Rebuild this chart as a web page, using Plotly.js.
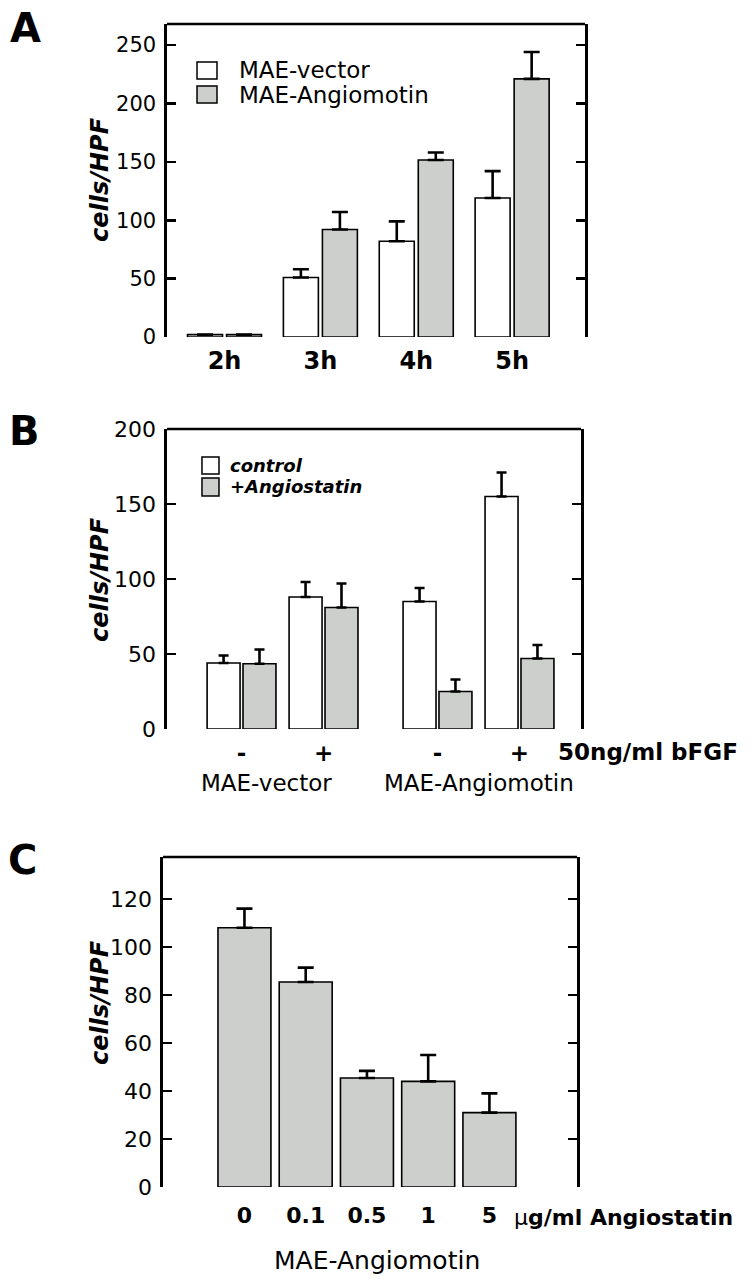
<!DOCTYPE html>
<html><head><meta charset="utf-8">
<script src="https://cdn.plot.ly/plotly-3.0.1.min.js"></script>
<style>html,body{margin:0;padding:0;background:#fff}#chart{width:753px;height:1280px}</style>
</head><body><div id="chart"></div>
<script>
// ---------- Panel A data ----------
const timeLabels = ['2h', '3h', '4h', '5h'];
const vectorA = [2, 51, 82, 119];
const vectorAErr = [0, 7, 17, 23];
const angiomotinA = [2, 92, 151.5, 221];
const angiomotinAErr = [0, 15, 6.5, 23];
const legendA = ['MAE-vector', 'MAE-Angiomotin'];

// ---------- Panel B data ----------
const cellLines = ['MAE-vector', 'MAE-Angiomotin'];
const bfgfLabels = ['-', '+'];
const bfgfTitle = '50ng/ml bFGF';
const controlB = [44, 88, 85, 155];
const controlBErr = [5, 10, 9, 16];
const angiostatinB = [43.5, 81, 25, 47];
const angiostatinBErr = [9.5, 16, 8, 9];
const legendB = ['control', '+Angiostatin'];

// ---------- Panel C data ----------
const doseLabels = ['0', '0.1', '0.5', '1', '5'];
const angiomotinC = [108, 85.4, 45.4, 44, 31];
const angiomotinCErr = [8, 6, 3, 11, 8];
const doseUnit = 'g/ml Angiostatin';
const cLineLabel = 'MAE-Angiomotin';

const yTitle = 'cells/HPF';

// ---------- styling ----------
const W = 753, H = 1280;
const FONT = 'DejaVu Sans, Arial, sans-serif';
const GRAY = '#cdcfcd';
const px = v => v / W;
const py = v => 1 - v / H;

function barTrace(x, y, err, fill, xa, ya, width, offset, capw) {
  return {
    type: 'bar', x: x, y: y, xaxis: xa, yaxis: ya,
    width: width, offset: offset,
    marker: {color: fill, line: {color: '#000', width: 1.6}},
    error_y: {type: 'data', symmetric: false, array: err,
              arrayminus: err.map(() => 0), color: '#000', thickness: 2.6, width: capw},
    showlegend: false, hoverinfo: 'skip'
  };
}

// Panel B positions: groups of bFGF conditions separated by a gap
const groupGap = 0.39;
const xB = [];
cellLines.forEach((g, gi) => bfgfLabels.forEach((c, ci) => xB.push(gi * (bfgfLabels.length + groupGap) + ci)));
const tickTextB = [];
cellLines.forEach(() => bfgfLabels.forEach(c => tickTextB.push(c)));

const traces = [
  barTrace(timeLabels, vectorA, vectorAErr, '#fff', 'x', 'y', 0.365, -0.386, 8),
  barTrace(timeLabels, angiomotinA, angiomotinAErr, GRAY, 'x', 'y', 0.365, 0.021, 8),
  barTrace(xB, controlB, controlBErr, '#fff', 'x2', 'y2', 0.402, -0.42, 5),
  barTrace(xB, angiostatinB, angiostatinBErr, GRAY, 'x2', 'y2', 0.402, 0.018, 5),
  barTrace(doseLabels, angiomotinC, angiomotinCErr, GRAY, 'x3', 'y3', 0.865, -0.4325, 8)
];

function yax(domain, range, dtick, fsize) {
  return {
    domain: domain, range: range, dtick: dtick, tick0: 0,
    showline: true, linecolor: '#000', linewidth: 2.6, mirror: 'ticks',
    ticks: 'inside', ticklen: 9, tickwidth: 2.6, tickcolor: '#000',
    showgrid: false, zeroline: false, fixedrange: true,
    tickfont: {family: FONT, size: fsize, color: '#000'}, ticklabelstandoff: 4
  };
}
function xax(domain, range, extra) {
  return Object.assign({
    domain: domain, range: range, showline: false, showgrid: false, zeroline: false,
    ticks: '', fixedrange: true
  }, extra);
}

const layout = {
  width: W, height: H, margin: {l: 0, r: 0, t: 0, b: 0},
  paper_bgcolor: '#fff', plot_bgcolor: 'rgba(0,0,0,0)',
  barmode: 'overlay', showlegend: false,
  font: {family: FONT, color: '#000'},
  xaxis: xax([px(167), px(585)], [-0.6, 3.76], {type: 'category', anchor: 'y',
    tickfont: {family: FONT, size: 24, weight: 'bold', color: '#000'}, ticklabelstandoff: 7}),
  yaxis: Object.assign(yax([py(337), py(24)], [0, 268], 50, 21), {anchor: 'x'}),
  xaxis2: xax([px(167), px(581)], [-0.909, 4.14], {type: 'linear', anchor: 'y2',
    tickmode: 'array', tickvals: xB, ticktext: tickTextB,
    tickfont: {family: FONT, size: 23, weight: 'bold', color: '#000'}, ticklabelstandoff: 8}),
  yaxis2: Object.assign(yax([py(729), py(429)], [0, 200], 50, 22), {anchor: 'x2'}),
  xaxis3: xax([px(163), px(577)], [-1.33, 5.43], {type: 'category', anchor: 'y3',
    tickfont: {family: FONT, size: 22, weight: 'bold', color: '#000'}, ticklabelstandoff: 13}),
  yaxis3: Object.assign(yax([py(1187), py(857)], [0, 137.5], 20, 22), {anchor: 'x3'}),
  shapes: [],
  annotations: []
};

// top frame lines
[['x', 'y'], ['x2', 'y2'], ['x3', 'y3']].forEach(([xa, ya]) => {
  layout.shapes.push({type: 'line', xref: xa + ' domain', yref: ya + ' domain',
    x0: 0, x1: 1, y0: 1, y1: 1, line: {color: '#000', width: 2.6}, layer: 'above'});
});

// legend A
const legColors = ['#fff', GRAY];
const legAY = [[0.8786, 0.8243], [0.8019, 0.7476]];
legendA.forEach((t, i) => {
  layout.shapes.push({type: 'rect', xref: 'x domain', yref: 'y domain',
    x0: 0.0718, x1: 0.1196, y0: legAY[i][1], y1: legAY[i][0],
    fillcolor: legColors[i], line: {color: '#000', width: 1.5}});
  layout.annotations.push({xref: 'x domain', yref: 'y domain', x: 0.1675,
    y: (legAY[i][0] + legAY[i][1]) / 2, xanchor: 'left', yanchor: 'middle',
    text: t, showarrow: false, font: {family: FONT, size: 23, color: '#000'}});
});
// legend B
const legBY = [[0.9067, 0.85], [0.8367, 0.7767]];
legendB.forEach((t, i) => {
  layout.shapes.push({type: 'rect', xref: 'x2 domain', yref: 'y2 domain',
    x0: 0.0845, x1: 0.1256, y0: legBY[i][1], y1: legBY[i][0],
    fillcolor: legColors[i], line: {color: '#000', width: 1.5}});
  layout.annotations.push({xref: 'x2 domain', yref: 'y2 domain', x: 0.1473,
    y: (legBY[i][0] + legBY[i][1]) / 2, xanchor: 'left', yanchor: 'middle',
    text: '<b><i>' + t + '</i></b>', showarrow: false, font: {family: FONT, size: 18, color: '#000'}});
});

// y titles
[[px(100), py(180)], [px(100), py(580)], [px(100), py(1003)]].forEach(([x, y]) => {
  layout.annotations.push({xref: 'paper', yref: 'paper', x: x, y: y, xanchor: 'center', yanchor: 'middle',
    textangle: -90, text: '<b><i>' + yTitle + '</i></b>', showarrow: false,
    font: {family: FONT, size: 24, color: '#000'}});
});

// panel letters
[['A', 25, 28], ['B', 24, 431], ['C', 22, 860]].forEach(([t, x, y]) => {
  layout.annotations.push({xref: 'paper', yref: 'paper', x: px(x), y: py(y), xanchor: 'center', yanchor: 'middle',
    text: '<b>' + t + '</b>', showarrow: false, font: {family: FONT, size: 40, color: '#000'}});
});

// Panel B extra labels
layout.annotations.push({xref: 'paper', yref: 'paper', x: px(556), y: py(752), xanchor: 'left', yanchor: 'middle',
  text: '<b>' + bfgfTitle + '</b>', showarrow: false, font: {family: FONT, size: 23, color: '#000'}});
cellLines.forEach((g, gi) => {
  const xs = xB.slice(gi * bfgfLabels.length, (gi + 1) * bfgfLabels.length);
  layout.annotations.push({xref: 'x2', yref: 'paper', x: xs.reduce((a, b) => a + b, 0) / xs.length - 0.2 * (1 - gi),
    y: py(783), xanchor: 'center', yanchor: 'middle', text: g, showarrow: false,
    font: {family: FONT, size: 23, color: '#000'}});
});

// Panel C extra labels
layout.annotations.push({xref: 'paper', yref: 'paper', x: px(512), y: py(1217), xanchor: 'left', yanchor: 'middle',
  text: 'µ<b>' + doseUnit + '</b>', showarrow: false, font: {family: FONT, size: 22, color: '#000'}});
layout.annotations.push({xref: 'paper', yref: 'paper', x: px(377), y: py(1260), xanchor: 'center', yanchor: 'middle',
  text: cLineLabel, showarrow: false, font: {family: FONT, size: 25, color: '#000'}});

Plotly.newPlot('chart', traces, layout, {staticPlot: true, displayModeBar: false});
</script>
</body></html>
